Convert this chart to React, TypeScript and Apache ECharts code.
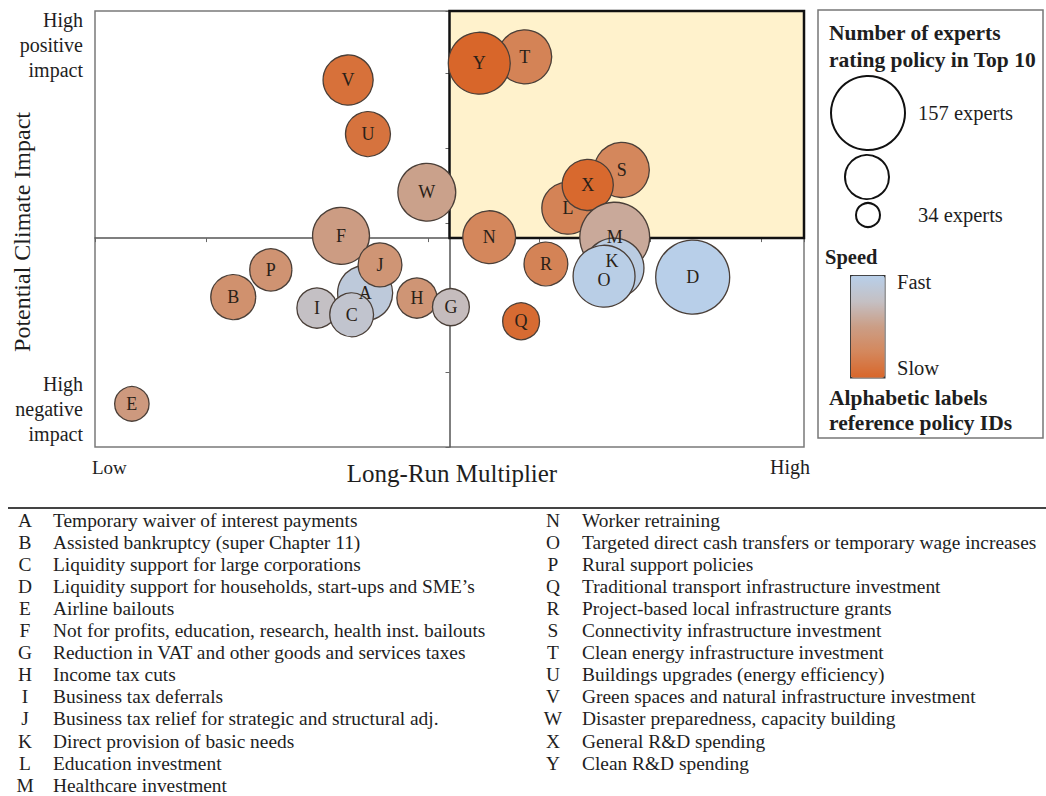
import React, { useEffect, useRef } from "react";
import * as echarts from "echarts";

const FONT = '"Liberation Serif", "Times New Roman", serif';

// Bubble data (draw order: later ones on top)
const bubbleIds = ["T", "Y", "L", "S", "X", "M", "K", "O", "D", "N", "R", "Q", "F", "A", "I", "C", "J", "H", "G", "B", "P", "E", "V", "U", "W"];
const multiplier = [6.06, 5.42, 6.67, 7.43, 6.95, 7.33, 7.32, 7.18, 8.43, 5.56, 6.36, 6.01, 3.47, 3.81, 3.13, 3.62, 4.02, 4.54, 5.02, 1.95, 2.48, 0.52, 3.57, 3.85, 4.68];
const climate = [8.59, 8.45, 5.26, 6.10, 5.77, 4.62, 3.94, 3.76, 3.74, 4.62, 4.03, 2.77, 4.65, 3.39, 3.06, 2.91, 4.01, 3.28, 3.08, 3.30, 3.90, 0.95, 8.08, 6.89, 5.61];
const experts = [84, 110, 78, 87, 75, 140, 103, 110, 157, 80, 55, 39, 93, 87, 46, 55, 55, 46, 39, 58, 51, 34, 72, 58, 96];
// speed: 1 = fast, 0 = slow
const speed = [0.22, 0.0, 0.22, 0.25, 0.02, 0.58, 0.95, 0.98, 1.0, 0.25, 0.22, 0.04, 0.48, 0.9, 0.75, 0.82, 0.4, 0.4, 0.72, 0.36, 0.38, 0.45, 0.08, 0.1, 0.52];

// Policy table
const policyIds = ["A", "B", "C", "D", "E", "F", "G", "H", "I", "J", "K", "L", "M", "N", "O", "P", "Q", "R", "S", "T", "U", "V", "W", "X", "Y"];
const policyNames = [
  "Temporary waiver of interest payments",
  "Assisted bankruptcy (super Chapter 11)",
  "Liquidity support for large corporations",
  "Liquidity support for households, start-ups and SME\u2019s",
  "Airline bailouts",
  "Not for profits, education, research, health inst. bailouts",
  "Reduction in VAT and other goods and services taxes",
  "Income tax cuts",
  "Business tax deferrals",
  "Business tax relief for strategic and structural adj.",
  "Direct provision of basic needs",
  "Education investment",
  "Healthcare investment",
  "Worker retraining",
  "Targeted direct cash transfers or temporary wage increases",
  "Rural support policies",
  "Traditional transport infrastructure investment",
  "Project-based local infrastructure grants",
  "Connectivity infrastructure investment",
  "Clean energy infrastructure investment",
  "Buildings upgrades (energy efficiency)",
  "Green spaces and natural infrastructure investment",
  "Disaster preparedness, capacity building",
  "General R&D spending",
  "Clean R&D spending",
];

const X_MIN = 0, X_MAX = 10, X_MID = 5, X_INT = 1.566;
const Y_MIN = 0, Y_MAX = 9.6, Y_MID = 4.6, Y_INT = 1.645;
const MAX_EXPERTS = 157;

const GRID = { left: 95, top: 11, width: 709, height: 436 };

// small label nudges so overlapping IDs stay readable
const labelNudge: Record<string, number[]> = { K: [-2, -7], O: [0, 4] };

export default function App() {
  const ref = useRef<HTMLDivElement>(null);

  useEffect(() => {
    if (!ref.current) return;
    const chart = echarts.init(ref.current, undefined, { renderer: "svg" });

    const data = bubbleIds.map((id, i) => ({
      name: id,
      value: [multiplier[i], climate[i], experts[i], speed[i]],
      label: labelNudge[id] ? { offset: labelNudge[id] } : undefined,
    }));

    const graphics: any[] = [];
    const txt = (x: number, y: number, text: string, opts: any = {}) => ({
      type: "text",
      x,
      y,
      silent: true,
      rotation: opts.rotation || 0,
      style: {
        text,
        fontFamily: FONT,
        fontSize: opts.fontSize || 20,
        fontWeight: opts.fontWeight || "normal",
        fill: opts.fill || "#1e1e1e",
        textAlign: opts.align || "left",
        textVerticalAlign: "middle",
      },
    });

    // y axis end labels
    ["High", "positive", "impact"].forEach((t, i) => graphics.push(txt(83, 20 + i * 25, t, { align: "right" })));
    ["High", "negative", "impact"].forEach((t, i) => graphics.push(txt(83, 384 + i * 25, t, { align: "right" })));
    graphics.push(txt(22, 232, "Potential Climate Impact", { align: "center", fontSize: 24, rotation: Math.PI / 2 }));
    graphics.push(txt(92, 467, "Low", { fontSize: 19 }));
    graphics.push(txt(810, 467, "High", { fontSize: 20, align: "right" }));
    graphics.push(txt(452, 473, "Long-Run Multiplier", { align: "center", fontSize: 25 }));

    // legend box
    graphics.push({ type: "rect", silent: true, shape: { x: 818, y: 10, width: 225, height: 428 }, style: { fill: "none", stroke: "#777", lineWidth: 1.5 } });
    graphics.push(txt(829, 33, "Number of experts", { fontWeight: "bold", fontSize: 21.5 }));
    graphics.push(txt(829, 60, "rating policy in Top 10", { fontWeight: "bold", fontSize: 21.5 }));
    graphics.push({ type: "circle", silent: true, shape: { cx: 868, cy: 113, r: 37 }, style: { fill: "#fff", stroke: "#111", lineWidth: 2 } });
    graphics.push({ type: "circle", silent: true, shape: { cx: 867, cy: 177, r: 22 }, style: { fill: "#fff", stroke: "#111", lineWidth: 2 } });
    graphics.push({ type: "circle", silent: true, shape: { cx: 868, cy: 215, r: 12 }, style: { fill: "#fff", stroke: "#111", lineWidth: 2 } });
    graphics.push(txt(918, 113, MAX_EXPERTS + " experts", { fontSize: 20.5 }));
    graphics.push(txt(918, 215, "34 experts", { fontSize: 20.5 }));
    graphics.push(txt(825, 257, "Speed", { fontWeight: "bold", fontSize: 20.5 }));
    graphics.push(txt(897, 282, "Fast", { fontSize: 20.5 }));
    graphics.push(txt(897, 368, "Slow", { fontSize: 20.5 }));
    graphics.push(txt(829, 398, "Alphabetic labels", { fontWeight: "bold", fontSize: 21.5 }));
    graphics.push(txt(829, 423, "reference policy IDs", { fontWeight: "bold", fontSize: 21.5 }));

    // table
    graphics.push({ type: "line", silent: true, shape: { x1: 8, y1: 508, x2: 1046, y2: 508 }, style: { stroke: "#444", lineWidth: 2 } });
    policyIds.forEach((id, i) => {
      const col = i < 13 ? 0 : 1;
      const row = col === 0 ? i : i - 13;
      const y = 520 + row * 22.1;
      graphics.push(txt(col === 0 ? 25 : 553, y, id, { align: "center", fontSize: 19.4 }));
      graphics.push(txt(col === 0 ? 53 : 582, y, policyNames[i], { fontSize: 19.4 }));
    });

    chart.setOption({
      animation: false,
      backgroundColor: "#fff",
      grid: { ...GRID, show: true, borderColor: "#7a7a7a", borderWidth: 1.5, backgroundColor: "transparent" },
      xAxis: {
        type: "value",
        min: X_MIN,
        max: X_MAX,
        interval: X_INT,
        position: "bottom",
        offset: -(GRID.height * (Y_MID - Y_MIN)) / (Y_MAX - Y_MIN),
        axisLine: { show: true, onZero: false, lineStyle: { color: "#555", width: 1.5 } },
        axisTick: { show: true, length: 4, lineStyle: { color: "#666" } },
        axisLabel: { show: false },
        splitLine: { show: false },
      },
      yAxis: {
        type: "value",
        min: Y_MIN,
        max: Y_MAX,
        interval: Y_INT,
        position: "left",
        offset: -(GRID.width * (X_MID - X_MIN)) / (X_MAX - X_MIN),
        axisLine: { show: true, onZero: false, lineStyle: { color: "#555", width: 1.5 } },
        axisTick: { show: true, length: 4, lineStyle: { color: "#666" } },
        axisLabel: { show: false },
        splitLine: { show: false },
      },
      visualMap: {
        type: "continuous",
        dimension: 3,
        seriesIndex: 0,
        min: 0,
        max: 1,
        calculable: false,
        left: 850,
        top: 275,
        itemWidth: 34,
        itemHeight: 102,
        padding: 0,
        borderColor: "#333",
        borderWidth: 1.5,
        inRange: { color: ["#d8662a", "#d4875c", "#cb9e86", "#c4c0c4", "#b8cfe9"] },
      },
      series: [
        {
          type: "scatter",
          data,
          symbolSize: (v: number[]) => 74 * Math.sqrt(v[2] / MAX_EXPERTS),
          itemStyle: { borderColor: "#4a3f38", borderWidth: 1.3, opacity: 1 },
          label: {
            show: true,
            position: "inside",
            formatter: "{b}",
            fontFamily: FONT,
            fontSize: 18,
            color: "#2a1f18",
          },
          emphasis: { disabled: true },
          markArea: {
            silent: true,
            itemStyle: { color: "#fff2cc", borderColor: "#111", borderWidth: 2.5 },
            data: [[{ coord: [X_MID, Y_MID] }, { coord: [X_MAX, Y_MAX] }]],
          },
        },
      ],
      graphic: graphics,
    });

    return () => chart.dispose();
  }, []);

  return <div ref={ref} style={{ position: "fixed", left: 0, top: 0, width: 1046, height: 796 }} />;
}
